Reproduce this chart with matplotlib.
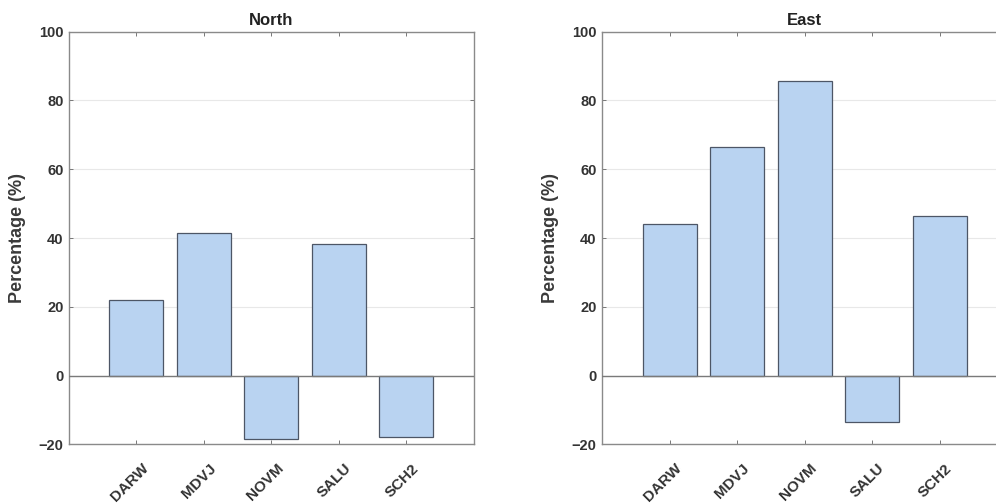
import matplotlib
matplotlib.use("Agg")
import matplotlib.pyplot as plt
import matplotlib.transforms as mtransforms
import numpy as np

plt.rcParams['font.family'] = ['Liberation Sans', 'DejaVu Sans']

stations = ["DARW", "MDVJ", "NOVM", "SALU", "SCH2"]
north_values = [22.0, 41.5, -18.5, 38.2, -17.8]
east_values = [44.2, 66.4, 85.8, -13.4, 46.5]
panel_titles = ["North", "East"]
y_ticks = [-20, 0, 20, 40, 60, 80, 100]

fig = plt.figure(figsize=(9.96, 5.03), dpi=100)
W, H = 996, 503
axes_px = [(69, 31.7, 404.5, 412.6), (602, 31.7, 405, 412.6)]

bar_face = "#b9d3f1"
bar_edge = "#4d5666"
spine_col = "#8a8a8a"
text_col = "#333333"

for i, ((x0, y0, w, h), title, vals) in enumerate(zip(axes_px, panel_titles, [north_values, east_values])):
    ax = fig.add_axes([x0 / W, 1 - (y0 + h) / H, w / W, h / H])
    xs = np.arange(1, len(stations) + 1)
    ax.set_xlim(0, 6)
    ax.set_ylim(-20, 100)
    ax.set_yticks(y_ticks)
    ax.set_xticks(xs)
    ax.set_xticklabels([])
    offset = mtransforms.ScaledTranslation(5 / 100, -17 / 100, fig.dpi_scale_trans)
    trans = ax.get_xaxis_transform() + offset
    for xv, name in zip(xs, stations):
        ax.text(xv, 0, name, transform=trans, rotation=45, ha="right", va="top",
                rotation_mode="anchor", fontsize=11, fontweight="bold", color=text_col,
                clip_on=False)
    for lbl in ax.get_yticklabels():
        lbl.set_fontsize(10.5)
        lbl.set_fontweight("bold")
        lbl.set_color(text_col)
    ax.grid(axis="y", color="#e8e8e8", linewidth=0.8, zorder=0)
    ax.set_axisbelow(True)
    ax.bar(xs, vals, width=0.8, color=bar_face, edgecolor=bar_edge, linewidth=0.9, zorder=2)
    ax.axhline(0, color="#7a7a7a", linewidth=1.0, zorder=3)
    ax.tick_params(direction="in", top=True, right=True, length=3, width=0.7,
                   color="#777777", pad=4)
    for s in ax.spines.values():
        s.set_color(spine_col)
        s.set_linewidth(1.0)
    if i == 1:
        ax.spines["right"].set_visible(False)
        ax.patch.set_visible(False)
    ax.set_title(title, fontsize=12, fontweight="bold", color="#222222", pad=5)
    ax.set_ylabel("Percentage (%)", fontsize=13, fontweight="bold", color="#3a3a3a", labelpad=9)

fig.savefig("out.png", dpi=100)
